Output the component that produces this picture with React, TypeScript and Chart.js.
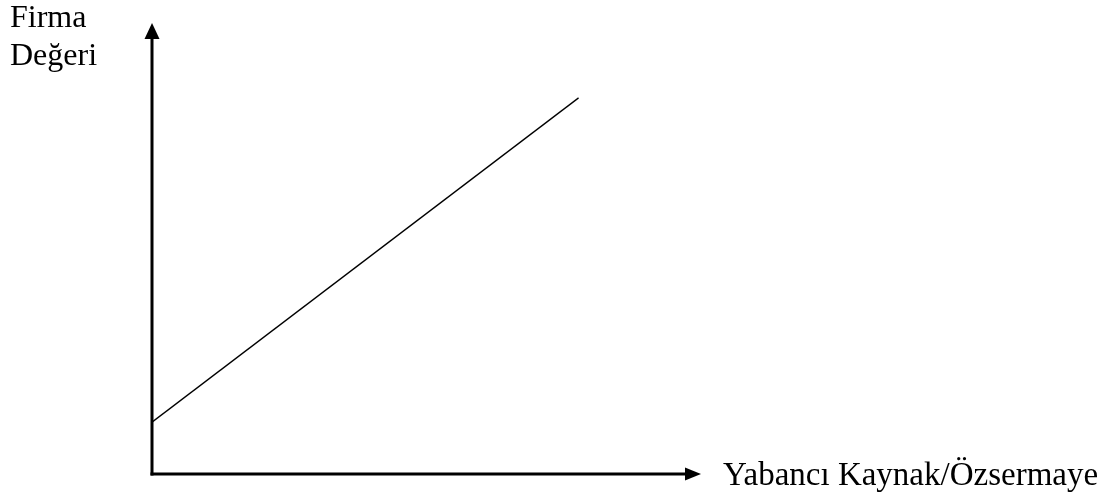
import React, { useEffect, useRef } from "react";
import { Chart, registerables } from "chart.js";

Chart.register(...registerables);

const xValues = [0, 7.77];
const yValues = [1.15, 8.34];
const yTitleLines = ["Firma", "Değeri"];
const xTitle = "Yabancı Kaynak/Özsermaye";

const FONT_Y = '32px "Liberation Serif", "Times New Roman", serif';
const FONT_X = '33px "Liberation Serif", "Times New Roman", serif';

const axesPlugin = {
  id: "arrowAxes",
  afterDraw(chart: any) {
    const { ctx, scales } = chart;
    const xs = scales.x;
    const ys = scales.y;
    const x0 = xs.getPixelForValue(0);
    const xEnd = xs.getPixelForValue(xs.max);
    const y0 = ys.getPixelForValue(0);
    const yEnd = ys.getPixelForValue(ys.max);
    ctx.save();
    ctx.strokeStyle = "#000";
    ctx.fillStyle = "#000";
    ctx.lineWidth = 3;
    // y axis
    ctx.beginPath();
    ctx.moveTo(x0, y0 + 1.5);
    ctx.lineTo(x0, yEnd + 14);
    ctx.stroke();
    ctx.beginPath();
    ctx.moveTo(x0, yEnd);
    ctx.lineTo(x0 - 7.5, yEnd + 16);
    ctx.lineTo(x0 + 7.5, yEnd + 16);
    ctx.closePath();
    ctx.fill();
    // x axis
    ctx.beginPath();
    ctx.moveTo(x0 - 1.5, y0);
    ctx.lineTo(xEnd - 14, y0);
    ctx.stroke();
    ctx.beginPath();
    ctx.moveTo(xEnd, y0);
    ctx.lineTo(xEnd - 16, y0 - 6.5);
    ctx.lineTo(xEnd - 16, y0 + 6.5);
    ctx.closePath();
    ctx.fill();
    // labels
    ctx.textAlign = "left";
    ctx.textBaseline = "alphabetic";
    ctx.font = FONT_Y;
    ctx.fillText(yTitleLines[0], 10, 27);
    ctx.fillText(yTitleLines[1], 10, 65);
    ctx.font = FONT_X;
    ctx.fillText(xTitle, xEnd + 22, y0 + 11);
    ctx.restore();
  },
};

export default function App() {
  const ref = useRef<HTMLCanvasElement>(null);
  useEffect(() => {
    if (!ref.current) return;
    const chart = new Chart(ref.current, {
      type: "line",
      data: {
        datasets: [
          {
            data: xValues.map((x, i) => ({ x, y: yValues[i] })),
            borderColor: "#000",
            borderWidth: 1.3,
            pointRadius: 0,
            fill: false,
            tension: 0,
          },
        ],
      },
      options: {
        animation: false,
        responsive: false,
        layout: { padding: { left: 152, right: 413, top: 23, bottom: 19 } },
        plugins: { legend: { display: false }, tooltip: { enabled: false } },
        scales: {
          x: { type: "linear", min: 0, max: 10, display: false },
          y: { type: "linear", min: 0, max: 10, display: false },
        },
      },
      plugins: [axesPlugin],
    });
    return () => chart.destroy();
  }, []);
  return (
    <div style={{ position: "absolute", left: 0, top: 0, width: 1114, height: 493, background: "#fff" }}>
      <canvas ref={ref} width={1114} height={493} style={{ display: "block" }} />
    </div>
  );
}
